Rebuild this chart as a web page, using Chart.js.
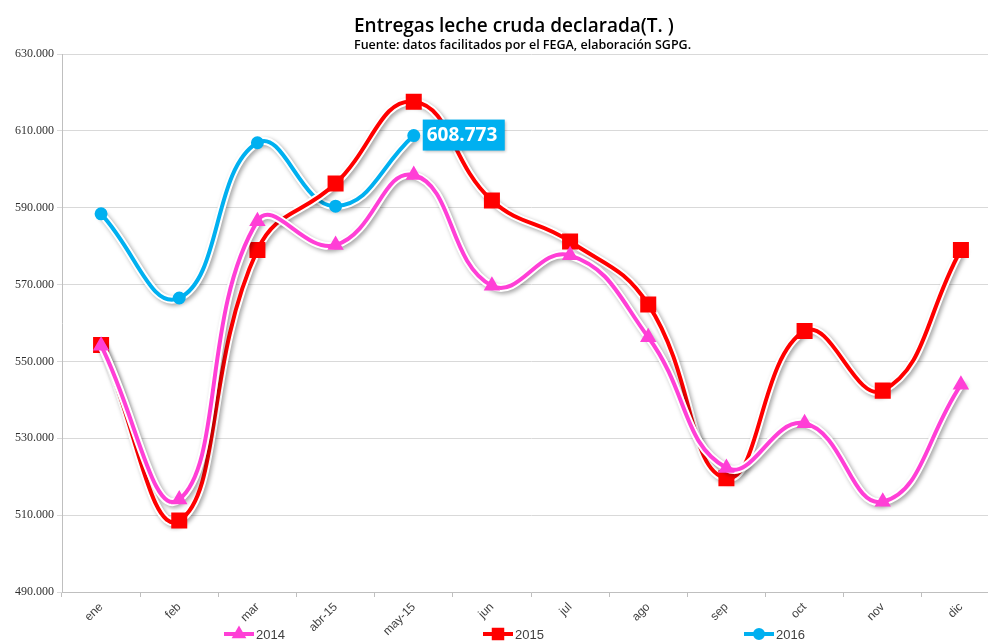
<!DOCTYPE html>
<html>
<head>
<meta charset="utf-8">
<script src="https://cdn.jsdelivr.net/npm/chart.js@4"></script>
<style>
  html, body { margin: 0; padding: 0; background: #fff; overflow: hidden; }
  #wrap { width: 1001px; height: 642px; }
</style>
</head>
<body>
<div id="wrap"><canvas id="chart" width="1001" height="642"></canvas></div>
<script>
// Data (toneladas)
const months = ['ene', 'feb', 'mar', 'abr-15', 'may-15', 'jun', 'jul', 'ago', 'sep', 'oct', 'nov', 'dic'];
const data2014 = [554100, 514100, 586500, 580300, 598500, 569700, 577600, 556300, 522300, 533900, 513500, 543900];
const data2015 = [554300, 508600, 579000, 596300, 617600, 591900, 581200, 564800, 519600, 557900, 542400, 579000];
const data2016 = [588400, 566500, 606900, 590400, 608773];
const seriesNames = ['2014', '2015', '2016'];
const seriesColors = ['#ff3fd6', '#ff0000', '#00b0f0'];

const titleText = 'Entregas leche cruda declarada(T. )';
const subtitleText = 'Fuente: datos facilitados por el FEGA, elaboración SGPG.';

// Format 630000 -> 630.000
function formatThousands(v) {
  return String(Math.round(v)).replace(/\B(?=(\d{3})+(?!\d))/g, '.');
}

// White halo + soft shadow under each line
const haloPlugin = {
  id: 'lineHalo',
  beforeDatasetDraw(chart, args) {
    const line = args.meta.dataset;
    if (!line || !line.points || !line.points.length) return;
    const ctx = chart.ctx;
    ctx.save();
    ctx.shadowColor = 'rgba(0,0,0,0.35)';
    ctx.shadowBlur = 4;
    ctx.shadowOffsetX = 2;
    ctx.shadowOffsetY = 2;
    ctx.strokeStyle = '#ffffff';
    ctx.lineWidth = 8;
    ctx.lineJoin = 'round';
    ctx.lineCap = 'round';
    ctx.beginPath();
    line.path(ctx);
    ctx.stroke();
    ctx.restore();
  }
};

// Label on the last 2016 point
const lastLabelPlugin = {
  id: 'lastLabel',
  afterDatasetsDraw(chart) {
    const meta = chart.getDatasetMeta(2);
    const pt = meta.data[meta.data.length - 1];
    const value = data2016[data2016.length - 1];
    const ctx = chart.ctx;
    ctx.save();
    const bx = pt.x + 9, by = pt.y - 16, bw = 82, bh = 31;
    ctx.shadowColor = 'rgba(0,0,0,0.3)';
    ctx.shadowBlur = 3;
    ctx.shadowOffsetX = 1;
    ctx.shadowOffsetY = 1;
    ctx.fillStyle = '#00b0f0';
    ctx.fillRect(bx, by, bw, bh);
    ctx.shadowColor = 'transparent';
    ctx.fillStyle = '#ffffff';
    ctx.font = 'bold 19px "Open Sans"';
    ctx.textAlign = 'left';
    ctx.textBaseline = 'middle';
    ctx.fillText(formatThousands(value), bx + 4, by + bh / 2 + 1);
    ctx.restore();
  }
};

// Title, subtitle and legend
const headerLegendPlugin = {
  id: 'headerLegend',
  afterDraw(chart) {
    const ctx = chart.ctx;
    ctx.save();
    ctx.fillStyle = '#000';
    ctx.textAlign = 'left';
    ctx.textBaseline = 'alphabetic';
    ctx.font = '600 19px "Open Sans"';
    ctx.fillText(titleText, 354, 32);
    ctx.font = '600 12.5px "Open Sans"';
    ctx.fillText(subtitleText, 354, 49);

    const legendX = [224, 483, 744];
    const styles = ['triangle', 'rect', 'circle'];
    const radii = [4.5, 6, 4];
    const ly = 634;
    seriesNames.forEach((name, i) => {
      const x = legendX[i];
      ctx.strokeStyle = seriesColors[i];
      ctx.lineWidth = 4;
      ctx.beginPath();
      ctx.moveTo(x, ly);
      ctx.lineTo(x + 30, ly);
      ctx.stroke();
      ctx.fillStyle = seriesColors[i];
      Chart.helpers.drawPoint(ctx, {
        pointStyle: styles[i], radius: radii[i], rotation: 0, borderWidth: 1
      }, x + 15, ly);
      ctx.fillStyle = '#404040';
      ctx.font = '13px "Liberation Sans"';
      ctx.textBaseline = 'middle';
      ctx.fillText(name, x + 32, ly + 1);
    });
    ctx.restore();
  }
};

const ctx = document.getElementById('chart').getContext('2d');
new Chart(ctx, {
  type: 'line',
  data: {
    labels: months,
    datasets: [
      {
        label: seriesNames[0],
        data: data2014,
        borderColor: seriesColors[0],
        backgroundColor: seriesColors[0],
        pointStyle: 'triangle',
        pointRadius: 5.5,
        borderWidth: 4
      },
      {
        label: seriesNames[1],
        data: data2015,
        borderColor: seriesColors[1],
        backgroundColor: seriesColors[1],
        pointStyle: 'rect',
        pointRadius: 8.5,
        borderWidth: 4
      },
      {
        label: seriesNames[2],
        data: data2016,
        borderColor: seriesColors[2],
        backgroundColor: seriesColors[2],
        pointStyle: 'circle',
        pointRadius: 4.5,
        borderWidth: 4
      }
    ]
  },
  options: {
    responsive: false,
    animation: false,
    elements: {
      line: { tension: 0.45, fill: false, capBezierPoints: false },
      point: { borderWidth: 1 }
    },
    layout: {
      autoPadding: false,
      padding: { top: 54, left: 0, right: 1, bottom: 0 }
    },
    plugins: {
      legend: { display: false },
      title: { display: false },
      tooltip: { enabled: false }
    },
    scales: {
      x: {
        offset: true,
        grid: {
          offset: true,
          drawOnChartArea: false,
          drawTicks: true,
          tickLength: 5,
          color: '#bfbfbf'
        },
        border: { color: '#bfbfbf' },
        ticks: {
          minRotation: 45,
          maxRotation: 45,
          padding: 3,
          color: '#404040',
          font: { family: 'Liberation Sans', size: 12 }
        },
        afterFit(scale) {
          scale.height = 50;
          scale.paddingLeft = 0;
          scale.paddingRight = 0;
        }
      },
      y: {
        min: 490000,
        max: 630000,
        grid: {
          color: '#d9d9d9',
          drawTicks: true,
          tickLength: 5
        },
        border: { color: '#bfbfbf' },
        ticks: {
          stepSize: 20000,
          padding: 3,
          color: '#303030',
          font: { family: 'Liberation Serif', size: 12 },
          callback: (v) => formatThousands(v)
        },
        afterFit(scale) {
          scale.width = 62;
          scale.paddingTop = 0;
          scale.paddingBottom = 0;
        }
      }
    }
  },
  plugins: [haloPlugin, lastLabelPlugin, headerLegendPlugin]
});
</script>
</body>
</html>
